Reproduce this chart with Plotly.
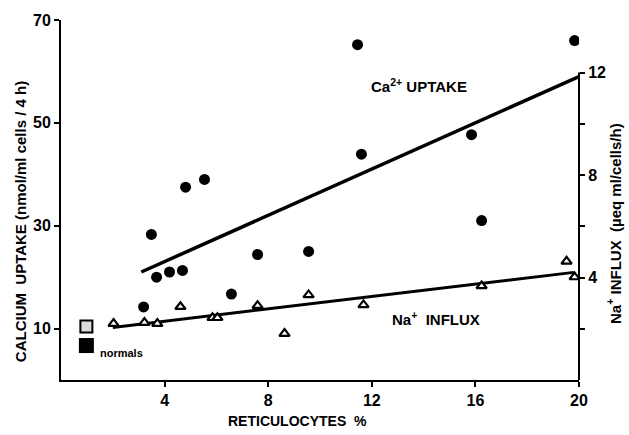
import plotly.graph_objects as go

# Calcium uptake (left axis, nmol/ml cells / 4 h) vs reticulocytes %
ca_retic = [3.19, 3.49, 3.69, 4.19, 4.69, 4.81, 5.54, 6.58, 7.59, 9.56, 11.45, 11.6, 15.85, 16.24, 19.83]
ca_uptake = [14.2, 28.3, 20.0, 21.0, 21.3, 37.5, 39.0, 16.7, 24.4, 25.0, 65.2, 43.9, 47.7, 31.0, 66.0]
ca_fit_x = [3.1, 20.0]
ca_fit_y = [21.0, 59.0]

# Na influx (right axis, µeq ml/cells/h) vs reticulocytes %
na_retic = [2.03, 3.22, 3.72, 4.61, 5.85, 6.04, 7.59, 8.63, 9.56, 11.68, 16.24, 19.52, 19.83]
na_influx = [2.2, 2.24, 2.2, 2.86, 2.43, 2.43, 2.9, 1.81, 3.32, 2.93, 3.67, 4.63, 4.02]
na_fit_x = [2.0, 19.8]
na_fit_y = [2.05, 4.2]

# Normals
normal_x = [0.98]
normal_ca = [6.7]
normal_na_left = [10.4]

x_ticks = [4, 8, 12, 16, 20]
y_ticks = [10, 30, 50, 70]
y2_ticks = [2, 4, 6, 8, 10, 12]
y2_labels = ["", "4", "", "8", "", "12"]

FONT = "Liberation Sans, Arial, sans-serif"

fig = go.Figure()

fig.add_trace(go.Scatter(x=ca_fit_x, y=ca_fit_y, mode="lines",
                         line=dict(color="black", width=3.5), showlegend=False))
fig.add_trace(go.Scatter(x=na_fit_x, y=na_fit_y, mode="lines", yaxis="y2",
                         line=dict(color="black", width=3), showlegend=False))
fig.add_trace(go.Scatter(x=ca_retic, y=ca_uptake, mode="markers",
                         marker=dict(symbol="circle", size=11, color="black"),
                         showlegend=False))
fig.add_trace(go.Scatter(x=na_retic, y=na_influx, mode="markers", yaxis="y2",
                         marker=dict(symbol="triangle-up", size=9, color="white",
                                     line=dict(color="black", width=2.2)),
                         showlegend=False))
fig.add_trace(go.Scatter(x=normal_x, y=normal_na_left, mode="markers",
                         marker=dict(symbol="square", size=12, color="#dcdcdc",
                                     line=dict(color="black", width=2)),
                         showlegend=False))
fig.add_trace(go.Scatter(x=normal_x, y=normal_ca, mode="markers",
                         marker=dict(symbol="square", size=15, color="black"),
                         showlegend=False))

tick_font = dict(size=16, family=FONT, weight="bold", color="black")

fig.update_layout(
    width=629, height=435,
    margin=dict(l=61, r=50, t=16, b=55),
    paper_bgcolor="white", plot_bgcolor="white",
    font=dict(family=FONT, color="black", size=15),
    xaxis=dict(range=[0, 20], tickvals=x_ticks, ticks="outside", ticklen=5,
               tickwidth=2, tickcolor="black", showline=True, linewidth=2,
               linecolor="black", showgrid=False, zeroline=False,
               tickfont=tick_font),
    yaxis=dict(range=[0, 70], tickvals=y_ticks, ticks="outside", ticklen=5,
               tickwidth=2, tickcolor="black", showline=True, linewidth=2,
               linecolor="black", showgrid=False, zeroline=False,
               tickfont=tick_font),
    yaxis2=dict(range=[0, 14.05], overlaying="y", side="right",
                tickvals=y2_ticks, ticktext=y2_labels, ticks="outside",
                ticklen=5, tickwidth=2, tickcolor="black", showline=False,
                showgrid=False, zeroline=False, tickfont=tick_font),
    shapes=[dict(type="line", xref="paper", yref="y2", x0=1, x1=1, y0=0, y1=12,
                 line=dict(color="black", width=2))],
)

ann_font = dict(family=FONT, size=15, color="black", weight="bold")
fig.add_annotation(x=13.84, y=57.3, xref="x", yref="y", xanchor="center", yanchor="middle",
                   text="Ca<sup>2+</sup> UPTAKE", showarrow=False, font=ann_font)
fig.add_annotation(x=14.46, y=11.9, xref="x", yref="y", xanchor="center", yanchor="middle",
                   text="Na<sup>+</sup>  INFLUX", showarrow=False, font=ann_font)
fig.add_annotation(x=1.41, y=5.2, xref="x", yref="y", xanchor="left", yanchor="middle",
                   text="normals", showarrow=False,
                   font=dict(family=FONT, size=11, color="black", weight="bold"))
fig.add_annotation(x=-0.078, y=0.44, xref="paper", yref="paper", textangle=-90,
                   xanchor="center", yanchor="middle",
                   text="CALCIUM  UPTAKE (nmol/ml cells / 4 h)", showarrow=False,
                   font=dict(family=FONT, size=15, color="black", weight="bold"))
fig.add_annotation(x=1.068, y=0.434, xref="paper", yref="paper", textangle=-90,
                   xanchor="center", yanchor="middle",
                   text="Na<sup>+</sup> INFLUX  (µeq ml/cells/h)", showarrow=False,
                   font=dict(family=FONT, size=15, color="black", weight="bold"))
fig.add_annotation(x=0.4575, y=-0.113, xref="paper", yref="paper",
                   xanchor="center", yanchor="middle",
                   text="RETICULOCYTES  %", showarrow=False,
                   font=dict(family=FONT, size=14, color="black", weight="bold"))

fig.write_html("out.html")
